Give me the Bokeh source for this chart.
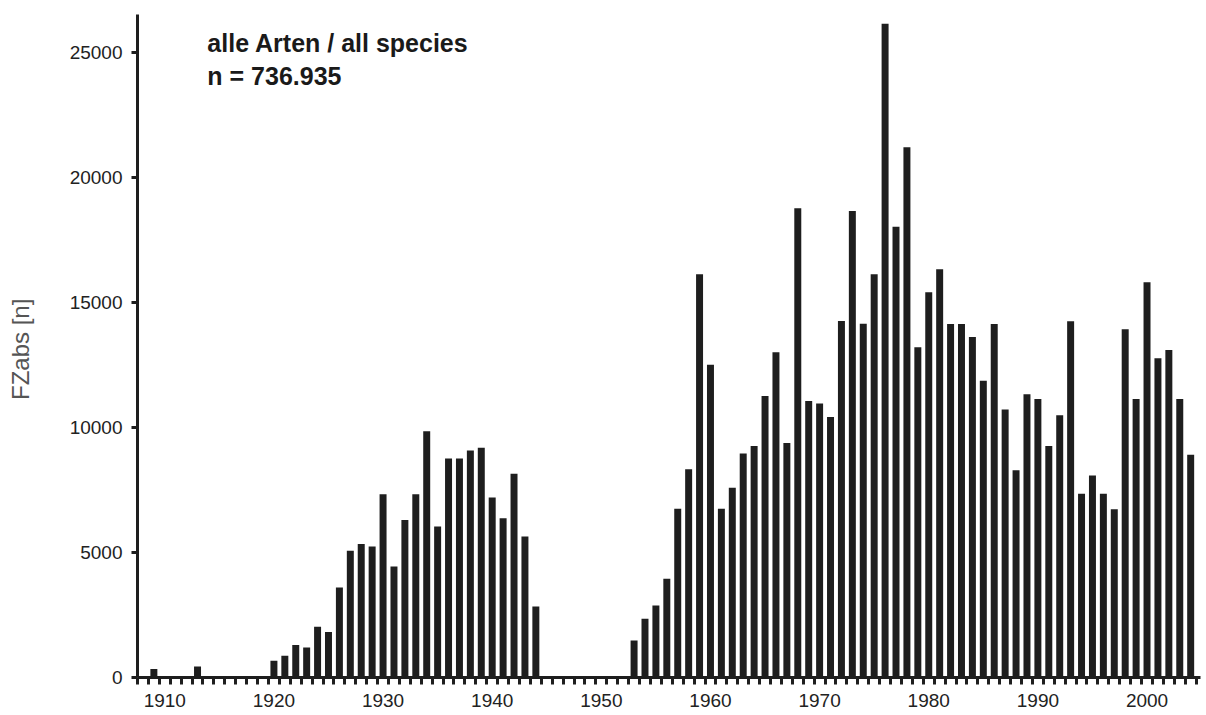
from bokeh.plotting import figure
from bokeh.models import Range1d, FixedTicker, Label
from bokeh.embed import file_html
from bokeh.resources import INLINE

# ---- data ----
years = [1909, 1913,
         1920, 1921, 1922, 1923, 1924, 1925, 1926, 1927, 1928, 1929,
         1930, 1931, 1932, 1933, 1934, 1935, 1936, 1937, 1938, 1939,
         1940, 1941, 1942, 1943, 1944,
         1953, 1954, 1955, 1956, 1957, 1958, 1959,
         1960, 1961, 1962, 1963, 1964, 1965, 1966, 1967, 1968, 1969,
         1970, 1971, 1972, 1973, 1974, 1975, 1976, 1977, 1978, 1979,
         1980, 1981, 1982, 1983, 1984, 1985, 1986, 1987, 1988, 1989,
         1990, 1991, 1992, 1993, 1994, 1995, 1996, 1997, 1998, 1999,
         2000, 2001, 2002, 2003, 2004]
counts = [340, 440,
          670, 870, 1300, 1200, 2030, 1820, 3600, 5070, 5340, 5240,
          7340, 4440, 6300, 7340, 9860, 6040, 8770, 8770, 9090, 9200,
          7210, 6370, 8160, 5640, 2840,
          1480, 2350, 2880, 3950, 6760, 8340, 16140,
          12520, 6760, 7600, 8970, 9270, 11270, 13020, 9390, 18780, 11070,
          10970, 10430, 14270, 18670, 14160, 16140, 26170, 18040, 21230, 13220,
          15420, 16340, 14150, 14150, 13630, 11880, 14150, 10730, 8300, 11340,
          11150, 9270, 10500, 14260, 7360, 8090, 7360, 6740, 13940, 11150,
          15820, 12780, 13110, 11150, 8920]

decade_ticks = [1910, 1920, 1930, 1940, 1950, 1960, 1970, 1980, 1990, 2000]
y_ticks = [0, 5000, 10000, 15000, 20000, 25000]
title_line1 = "alle Arten / all species"
title_line2 = "n = 736.935"
y_label = "FZabs  [n]"

INK = "#1e1e1e"
FONT = "Liberation Sans"

p = figure(width=1206, height=709, output_backend="svg", toolbar_location=None,
           x_range=Range1d(1907.5, 2004.9), y_range=Range1d(0, 26540),
           min_border_left=137, min_border_right=6, min_border_top=14,
           min_border_bottom=32)
p.outline_line_color = None
p.xgrid.visible = False
p.ygrid.visible = False
p.background_fill_color = "white"
p.border_fill_color = "white"

p.vbar(x=years, top=counts, width=0.64, bottom=0,
       fill_color=INK, line_color=None)

# x axis
xa = p.xaxis[0]
xa.ticker = FixedTicker(ticks=decade_ticks,
                        minor_ticks=[1907.5 + i for i in range(98)])
xa.axis_line_width = 3
xa.axis_line_color = INK
xa.major_tick_out = 0
xa.major_tick_in = 0
xa.major_tick_line_color = None
xa.minor_tick_out = 7
xa.minor_tick_in = 0
xa.minor_tick_line_width = 3
xa.minor_tick_line_color = INK
xa.major_label_standoff = 9
xa.major_label_text_font = FONT
xa.major_label_text_font_size = "19px"
xa.major_label_text_color = "#222222"

# y axis
ya = p.yaxis[0]
ya.ticker = FixedTicker(ticks=y_ticks)
ya.axis_line_width = 3
ya.axis_line_color = INK
ya.major_tick_out = 6
ya.major_tick_in = 0
ya.major_tick_line_width = 3
ya.major_tick_line_color = INK
ya.minor_tick_out = 0
ya.minor_tick_in = 0
ya.minor_tick_line_color = None
ya.major_label_standoff = 9
ya.major_label_text_font = FONT
ya.major_label_text_font_size = "19px"
ya.major_label_text_color = "#222222"
ya.axis_label = y_label
ya.axis_label_text_font = FONT
ya.axis_label_text_font_size = "24px"
ya.axis_label_text_font_style = "normal"
ya.axis_label_text_color = "#555555"
ya.axis_label_standoff = 33

# annotation text
p.add_layout(Label(x=1913.9, y=25380, text=title_line1, text_font=FONT,
                   text_font_size="25px", text_font_style="bold",
                   text_color="#1a1a1a", text_baseline="alphabetic"))
p.add_layout(Label(x=1913.9, y=24060, text=title_line2, text_font=FONT,
                   text_font_size="25px", text_font_style="bold",
                   text_color="#1a1a1a", text_baseline="alphabetic"))

open("out.html", "w").write(file_html(p, INLINE))
